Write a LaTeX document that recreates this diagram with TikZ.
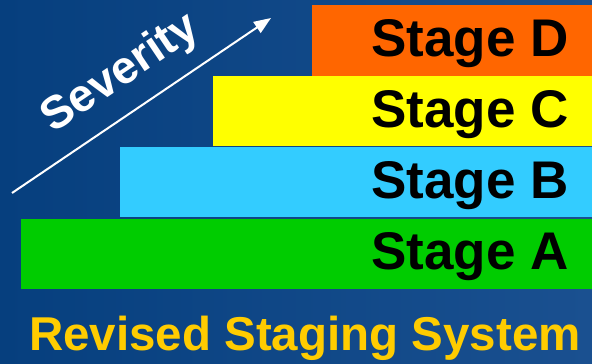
\documentclass[tikz,border=0pt]{standalone}
\usepackage{fontspec}
\setmainfont{Liberation Sans}
\usetikzlibrary{arrows.meta}
\definecolor{bgL}{HTML}{063F7E}
\definecolor{bgR}{HTML}{1A5090}
\definecolor{stD}{HTML}{FF6600}
\definecolor{stC}{HTML}{FFFF00}
\definecolor{stB}{HTML}{33CCFF}
\definecolor{stA}{HTML}{00CC00}
\definecolor{titleY}{HTML}{FFCC00}
\begin{document}
\begin{tikzpicture}[x=1pt,y=1pt,
  stagebox/.style={draw=none,inner sep=0pt,outer sep=0pt,anchor=south west},
  stagelabel/.style={anchor=base,inner sep=0pt,font=\fontsize{53}{60}\selectfont\bfseries,text=black},
  ]
\useasboundingbox (0,0) rectangle (592,364);
\shade[left color=bgL,right color=bgR] (0,0) rectangle (592,364);
% boxes
\node[stagebox,fill=stD,minimum width=280pt,minimum height=71pt] (boxD) at (312,288) {};
\node[stagebox,fill=stC,minimum width=379pt,minimum height=70pt] (boxC) at (213,218) {};
\node[stagebox,fill=stB,minimum width=472pt,minimum height=70.5pt] (boxB) at (120,146.5) {};
\node[stagebox,fill=stA,minimum width=571pt,minimum height=70pt] (boxA) at (21,75) {};
% labels
\node[stagelabel] (labD) at (470,307) {Stage D};
\node[stagelabel] (labC) at (470,236) {Stage C};
\node[stagelabel] (labB) at (470,165) {Stage B};
\node[stagelabel] (labA) at (470,94.5) {Stage A};
% severity arrow
\coordinate (arrS) at (12,171);
\coordinate (arrE) at (271,346);
\draw[white,line width=2pt,-{Triangle[length=17pt,width=13pt]}] (arrS) -- (arrE);
\node[text=white,rotate=34,inner sep=0pt,font=\fontsize{46}{52}\selectfont\bfseries] (sev) at (121,290) {Severity};
% title
\node[anchor=base,inner sep=0pt,text=titleY,font=\fontsize{47.5}{54}\selectfont\bfseries] (title) at (305,13) {Revised Staging System};
\end{tikzpicture}
\end{document}
